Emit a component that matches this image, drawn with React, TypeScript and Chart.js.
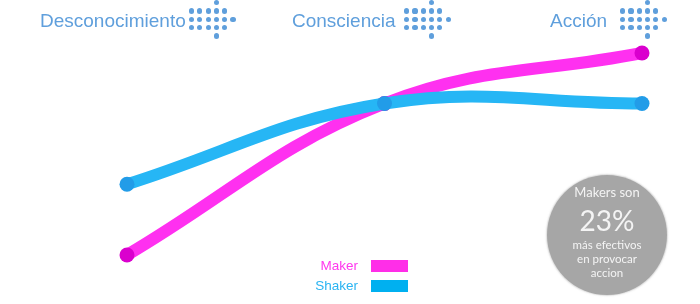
import React, { useEffect, useRef } from "react";
import { Chart, registerables } from "chart.js";

Chart.register(...registerables);

const stages = ["Desconocimiento", "Consciencia", "Acción"];
const makerValues = [0, 75, 100];
const shakerValues = [35, 75, 75];
const seriesNames = ["Maker", "Shaker"];
const calloutLines = ["Makers son", "23%", "más efectivos", "en provocar", "accion"];

const MAKER_LINE = "rgb(255, 48, 240)";
const MAKER_POINT = "rgb(218, 0, 206)";
const SHAKER_LINE = "rgb(38, 182, 245)";
const SHAKER_POINT = "rgb(34, 156, 232)";
const HEAD_BLUE = "#5f9fdc";

function DotArrow({ x }: { x: number }) {
  const sp = 8.3;
  const rows = [11, 19.3, 27.7];
  const dots: { cx: number; cy: number }[] = [];
  rows.forEach((ry, ri) => {
    for (let c = 0; c < 5; c++) dots.push({ cx: x + c * sp, cy: ry });
    if (ri === 1) dots.push({ cx: x + 5 * sp, cy: ry });
  });
  dots.push({ cx: x + 3 * sp, cy: 2.8 });
  dots.push({ cx: x + 3 * sp, cy: 36 });
  return (
    <>
      {dots.map((d, i) => (
        <div
          key={i}
          style={{
            position: "absolute",
            left: d.cx - 2.6,
            top: d.cy - 2.6,
            width: 5.2,
            height: 5.2,
            borderRadius: "50%",
            background: HEAD_BLUE,
          }}
        />
      ))}
    </>
  );
}

export default function App() {
  const ref = useRef<HTMLCanvasElement>(null);

  useEffect(() => {
    if (!ref.current) return;
    const chart = new Chart(ref.current, {
      type: "line",
      data: {
        labels: stages,
        datasets: [
          {
            label: seriesNames[1],
            data: shakerValues,
            borderColor: SHAKER_LINE,
            backgroundColor: SHAKER_LINE,
            borderWidth: 12,
            tension: 0.4,
            pointRadius: 7.5,
            pointBorderWidth: 0,
            pointBackgroundColor: SHAKER_POINT,
            borderCapStyle: "round",
            clip: false,
            order: 0,
          },
          {
            label: seriesNames[0],
            data: makerValues,
            borderColor: MAKER_LINE,
            backgroundColor: MAKER_LINE,
            borderWidth: 12,
            tension: 0.4,
            pointRadius: 7.5,
            pointBorderWidth: 0,
            pointBackgroundColor: MAKER_POINT,
            borderCapStyle: "round",
            clip: false,
            order: 1,
          },
        ],
      },
      options: {
        animation: false,
        responsive: false,
        maintainAspectRatio: false,
        layout: { padding: { left: 127, right: 58, top: 53, bottom: 49 } },
        plugins: { legend: { display: false }, tooltip: { enabled: false } },
        scales: {
          x: { display: false, offset: false },
          y: { display: false, min: 0, max: 100 },
        },
      },
    });
    return () => chart.destroy();
  }, []);

  const headFont = "'Liberation Sans', Arial, sans-serif";
  const heads = [
    { text: stages[0], left: 40 },
    { text: stages[1], left: 292 },
    { text: stages[2], left: 550 },
  ];

  return (
    <div
      style={{
        position: "absolute",
        left: 0,
        top: 0,
        width: 700,
        height: 304,
        overflow: "hidden",
        background: "#ffffff",
      }}
    >
      <canvas ref={ref} width={700} height={304} style={{ position: "absolute", left: 0, top: 0 }} />
      {heads.map((h, i) => (
        <div
          key={i}
          style={{
            position: "absolute",
            left: h.left,
            top: 11,
            fontFamily: headFont,
            fontSize: 19,
            lineHeight: "19px",
            color: HEAD_BLUE,
            whiteSpace: "nowrap",
          }}
        >
          {h.text}
        </div>
      ))}
      <DotArrow x={191.5} />
      <DotArrow x={406.7} />
      <DotArrow x={622.7} />

      {/* legend */}
      {[
        { name: seriesNames[0], color: "#ff38ee", sw: "#ff2ee8", cy: 266 },
        { name: seriesNames[1], color: "#2ab4f2", sw: "#00b0f0", cy: 286 },
      ].map((l, i) => (
        <React.Fragment key={i}>
          <div
            style={{
              position: "absolute",
              right: 700 - 358,
              top: l.cy - 8,
              height: 16,
              lineHeight: "16px",
              fontFamily: headFont,
              fontSize: 13.5,
              color: l.color,
              whiteSpace: "nowrap",
            }}
          >
            {l.name}
          </div>
          <div
            style={{
              position: "absolute",
              left: 371,
              top: l.cy - 6,
              width: 37,
              height: 12,
              background: l.sw,
            }}
          />
        </React.Fragment>
      ))}

      {/* callout circle */}
      <div
        style={{
          position: "absolute",
          left: 547,
          top: 175,
          width: 120,
          height: 120,
          borderRadius: "50%",
          background: "#a6a6a6",
          boxShadow: "0 0 1.5px 1px rgba(150,150,150,0.35)",
          color: "#f4f4f4",
          fontFamily: "Lato, 'Open Sans', sans-serif",
        }}
      >
        {calloutLines.map((t, i) => {
          const cys = [17, 45, 70, 84, 98];
          const fs = i === 0 ? 13 : i === 1 ? 28 : 11.5;
          const lh = fs + 4;
          return (
            <div
              key={i}
              style={{
                position: "absolute",
                left: 0,
                width: 120,
                top: cys[i] - lh / 2,
                height: lh,
                lineHeight: lh + "px",
                fontSize: fs,
                textAlign: "center",
                whiteSpace: "nowrap",
              }}
            >
              {t}
            </div>
          );
        })}
      </div>
    </div>
  );
}
